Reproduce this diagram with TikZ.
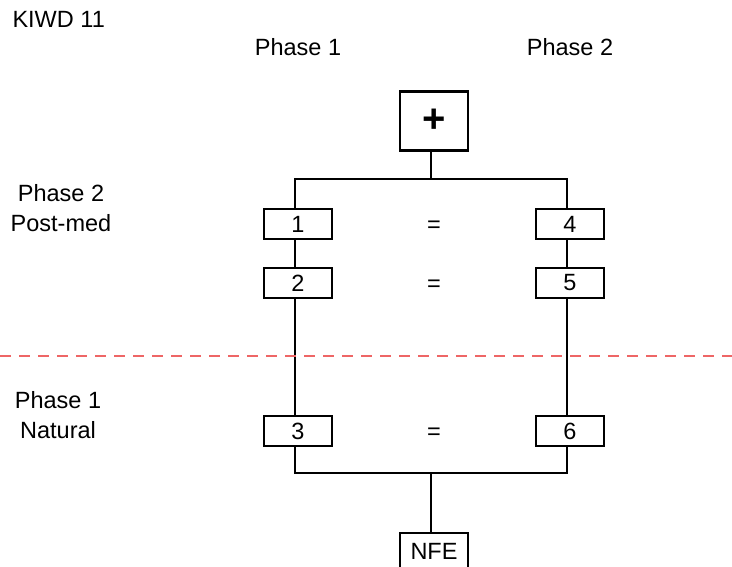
\documentclass[tikz,border=0pt]{standalone}
\usepackage{fontspec}
\setmainfont{Liberation Sans}
\usepackage{tikz}
\usetikzlibrary{positioning}

\begin{document}
\begin{tikzpicture}[x=1pt,y=-1pt,
	box/.style = {draw, line width=2.3pt, minimum width=68pt, minimum height=30pt, inner sep=0pt, align = center, font=\fontsize{23.5}{28}\selectfont},
	txt/.style = {align = center, font=\fontsize{23.5}{30}\selectfont},
	link/.style = {line width=2.3pt}]
	\clip (0,0) rectangle (732,566);
	\node [txt, anchor=west] (title) at (9,19) {KIWD 11};
	\node [txt] (p1) at (298,47) {Phase 1};
	\node [txt] (p2) at (570,47) {Phase 2};
	\node [txt] (post) at (61,208) {Phase 2\\Post-med};
	\node [txt] (nat) at (58,415) {Phase 1\\Natural};

	\node [box, minimum height = 59pt, font=\fontsize{40}{40}\selectfont\bfseries] (plus) at (434,121) {+};
	\node [box] (b1) at (298,224) {1};
	\node [box] (b2) at (298,283) {2};
	\node [box] (b3) at (298,431) {3};
	\node [box] (b4) at (570,224) {4};
	\node [box] (b5) at (570,283) {5};
	\node [box] (b6) at (570,431) {6};
	\node [box, minimum height = 36pt] (nfe) at (434,551) {NFE};
	\node [txt] (e1) at (434,227) {=};
	\node [txt] (e2) at (434,286) {=};
	\node [txt] (e3) at (434,434) {=};

	\coordinate (top) at (431,179);
	\coordinate (bot) at (431,473);

	\draw [link] (plus.south -| top) -- (top);
	\draw [link] (b1.north -| 295,0) |- (top) -| (b4.north -| 567,0);
	\draw [link] (b1.south -| 295,0) -- (b2.north -| 295,0);
	\draw [link] (b4.south -| 567,0) -- (b5.north -| 567,0);
	\draw [link] (b2.south -| 295,0) -- (b3.north -| 295,0);
	\draw [link] (b5.south -| 567,0) -- (b6.north -| 567,0);
	\draw [link] (b3.south -| 295,0) |- (bot) -| (b6.south -| 567,0);
	\draw [link] (bot) -- (nfe.north -| bot);

	\draw [line width=2pt, color={rgb,255:red,238;green,102;blue,102}, dash pattern=on 11pt off 8pt] (0,356) -- (732,356);
\end{tikzpicture}
\end{document}
